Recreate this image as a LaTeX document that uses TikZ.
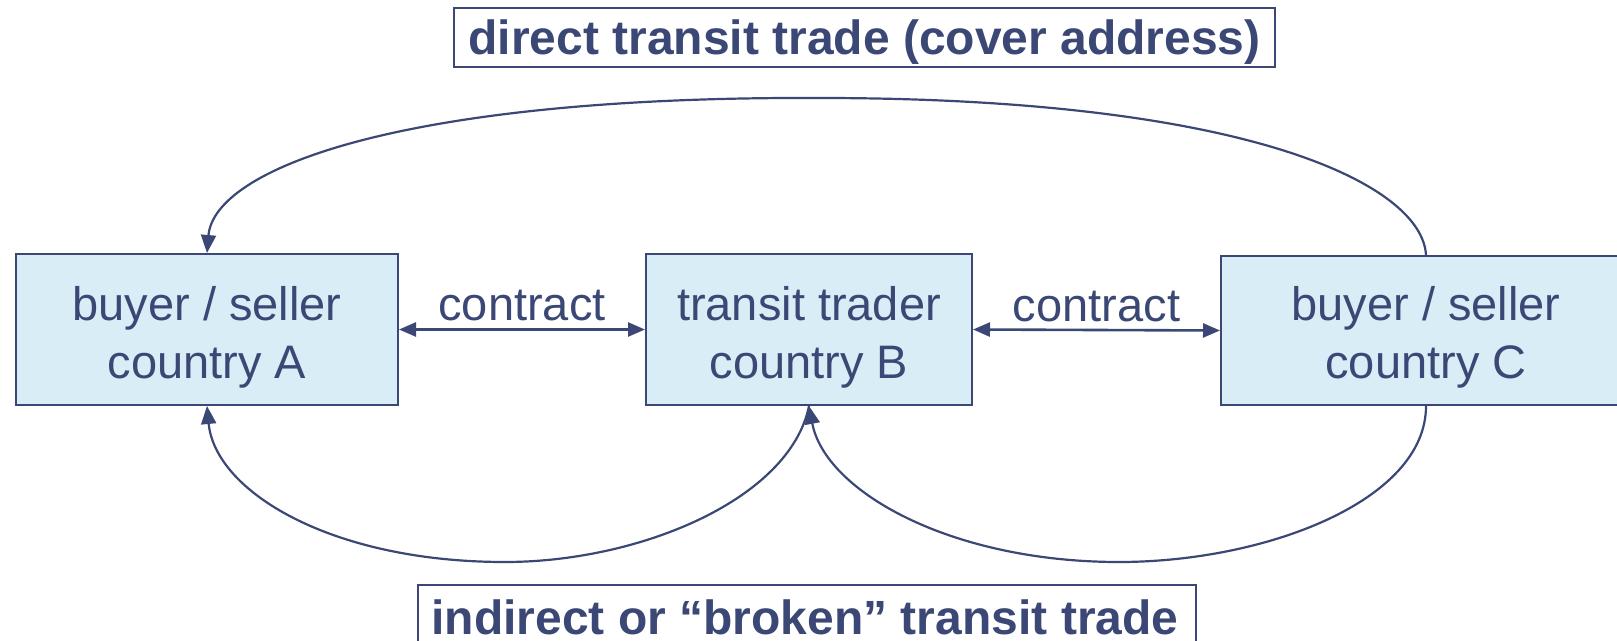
\documentclass[tikz,border=0pt]{standalone}
\usepackage{fontspec}
\setmainfont{Liberation Sans}
\usetikzlibrary{arrows.meta}
\definecolor{navy}{RGB}{59,72,117}
\definecolor{boxfill}{RGB}{216,237,246}
\tikzset{
  party/.style={draw=navy, line width=2pt, fill=boxfill, inner sep=0pt},
  frame/.style={draw=navy, line width=2pt, fill=white, inner sep=0pt},
  partytext/.style={text=navy, align=center, inner sep=0pt, font=\fontsize{47}{58}\selectfont},
  heading/.style={text=navy, inner sep=0pt, font=\fontsize{48}{58}\selectfont\bfseries},
  lbl/.style={text=navy, inner sep=0pt, font=\fontsize{47}{58}\selectfont},
  contractline/.style={navy, line width=2.6pt, {Triangle[length=17pt,width=14pt]}-{Triangle[length=17pt,width=14pt]}},
  flow/.style={navy, line width=2.2pt, -{Triangle[length=18pt,width=15pt]}}
}
\begin{document}
\begin{tikzpicture}[x=1pt,y=-1pt]
\useasboundingbox (0,0) rectangle (1617,640);

% parties
\node[party, minimum width=382pt, minimum height=151pt] (A) at (207,329.5) {};
\node[party, minimum width=326pt, minimum height=151pt] (B) at (809,329.5) {};
\node[party, minimum width=410pt, minimum height=149pt] (C) at (1426,330.5) {};
\node[partytext] (tA) at (207,337) {buyer / seller\\country A};
\node[partytext] (tB) at (809,337) {transit trader\\country B};
\node[partytext] (tC) at (1426,337) {buyer / seller\\country C};

% headings
\node[frame, minimum width=821pt, minimum height=59pt] (top) at (864.5,37.5) {};
\node[heading] (topText) at (864.5,42) {direct transit trade (cover address)};
\node[frame, minimum width=778pt, minimum height=64pt] (bottom) at (807,617) {};
\node[heading] (bottomText) at (805,617) {indirect or “broken” transit trade};

% contracts
\draw[contractline] (A.east) -- (B.west) node[lbl, midway, above=7pt] (c1) {contract};
\draw[contractline] (B.east) -- (C.west) node[lbl, midway, above=7pt] (c2) {contract};

% goods flows
\coordinate (peak) at (820,98);
\coordinate (lowL) at (505,562);
\coordinate (lowR) at (1119,562);
\draw[flow] (C.north) .. controls +(-4,-70) and +(430,0) .. (peak)
            .. controls +(-420,-2) and +(7,-84) .. (A.north);
\draw[flow] (C.south) .. controls +(0,95) and +(146,0) .. (lowR)
            .. controls +(-169,0) and +(16,85) .. (B.south);
\draw[flow] (B.south) .. controls +(-19,93) and +(135,0) .. (lowL)
            .. controls +(-175,0) and +(8,85) .. (A.south);
\end{tikzpicture}
\end{document}
